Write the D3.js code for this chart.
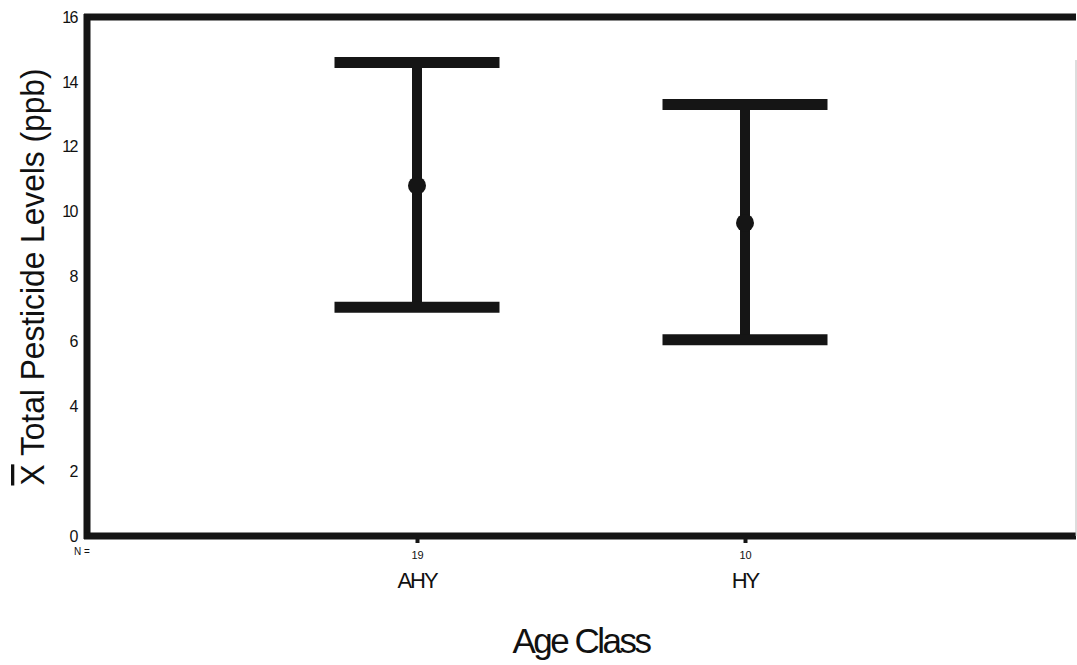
<!DOCTYPE html>
<html><head><meta charset="utf-8">
<script src="https://cdn.jsdelivr.net/npm/d3@7"></script>
<style>body{margin:0;background:#fff}svg{display:block}text{font-family:"Liberation Sans",Arial,sans-serif;fill:#111}</style>
</head><body><svg id="c" width="1077" height="665"></svg>
<script>
const categories = ["AHY", "HY"];
const counts = [19, 10];
const means = [10.8, 9.65];
const upper = [14.6, 13.3];
const lower = [7.05, 6.05];
const yTicks = [0, 2, 4, 6, 8, 10, 12, 14, 16];

const svg = d3.select("#c");
const L = 87, T = 17, R = 1076, B = 536;
const y = d3.scaleLinear().domain([0, 16]).range([B, T]);
const x = d3.scalePoint().domain(categories).range([417, 745]);
const ink = "#151515";

// frame
svg.append("line").attr("x1", L - 3).attr("x2", R).attr("y1", T).attr("y2", T).attr("stroke", ink).attr("stroke-width", 7);
svg.append("line").attr("x1", L).attr("x2", L).attr("y1", T - 3).attr("y2", B + 3).attr("stroke", ink).attr("stroke-width", 7);
svg.append("line").attr("x1", L - 3).attr("x2", R).attr("y1", B).attr("y2", B).attr("stroke", ink).attr("stroke-width", 7);
svg.append("line").attr("x1", R).attr("x2", R).attr("y1", 60).attr("y2", B).attr("stroke", "#bbb").attr("stroke-width", 1);

// y axis labels
const yAxis = d3.axisLeft(y).tickValues(yTicks).tickSize(0).tickPadding(10);
const gy = svg.append("g").attr("transform", `translate(${L},0)`).call(yAxis);
gy.select(".domain").remove();
gy.selectAll("text").style("font-family", '"Liberation Sans",Arial,sans-serif').style("font-size", "16px").style("letter-spacing", "-1.5px").attr("fill", ink);

// x axis
const xAxis = d3.axisBottom(x).tickSize(4).tickFormat((d, i) => counts[i]).tickPadding(8);
const gx = svg.append("g").attr("transform", `translate(0,${B + 3})`).call(xAxis);
gx.select(".domain").remove();
gx.selectAll("line").attr("stroke", ink).attr("stroke-width", 4);
gx.selectAll("text").style("font-family", '"Liberation Sans",Arial,sans-serif').style("font-size", "11px").attr("fill", ink);

svg.append("text").attr("x", 82).attr("y", 555).attr("text-anchor", "middle").style("font-size", "10px").text("N =");

svg.selectAll(".cat").data(categories).enter().append("text")
  .attr("x", d => x(d)).attr("y", 588).attr("text-anchor", "middle")
  .style("font-size", "22px").style("letter-spacing", "-2px").text(d => d);

svg.append("text").attr("x", 581).attr("y", 653).attr("text-anchor", "middle")
  .style("font-size", "35px").style("letter-spacing", "-2.5px").text("Age Class");

const yt = svg.append("text").attr("transform", "translate(44,277) rotate(-90)").attr("text-anchor", "middle")
  .attr("textLength", 417).attr("lengthAdjust", "spacingAndGlyphs")
  .style("font-size", "33px");
yt.append("tspan").style("text-decoration", "overline").text("X");
yt.append("tspan").text(" Total Pesticide Levels (ppb)");

// error bars
const capW = 165;
const g = svg.append("g");
categories.forEach((c, i) => {
  const cx = x(c);
  g.append("line").attr("x1", cx).attr("x2", cx).attr("y1", y(upper[i])).attr("y2", y(lower[i])).attr("stroke", ink).attr("stroke-width", 10);
  g.append("line").attr("x1", cx - capW / 2).attr("x2", cx + capW / 2).attr("y1", y(upper[i])).attr("y2", y(upper[i])).attr("stroke", ink).attr("stroke-width", 11);
  g.append("line").attr("x1", cx - capW / 2).attr("x2", cx + capW / 2).attr("y1", y(lower[i])).attr("y2", y(lower[i])).attr("stroke", ink).attr("stroke-width", 11);
  g.append("circle").attr("cx", cx).attr("cy", y(means[i])).attr("r", 9).attr("fill", ink);
});
</script></body></html>
